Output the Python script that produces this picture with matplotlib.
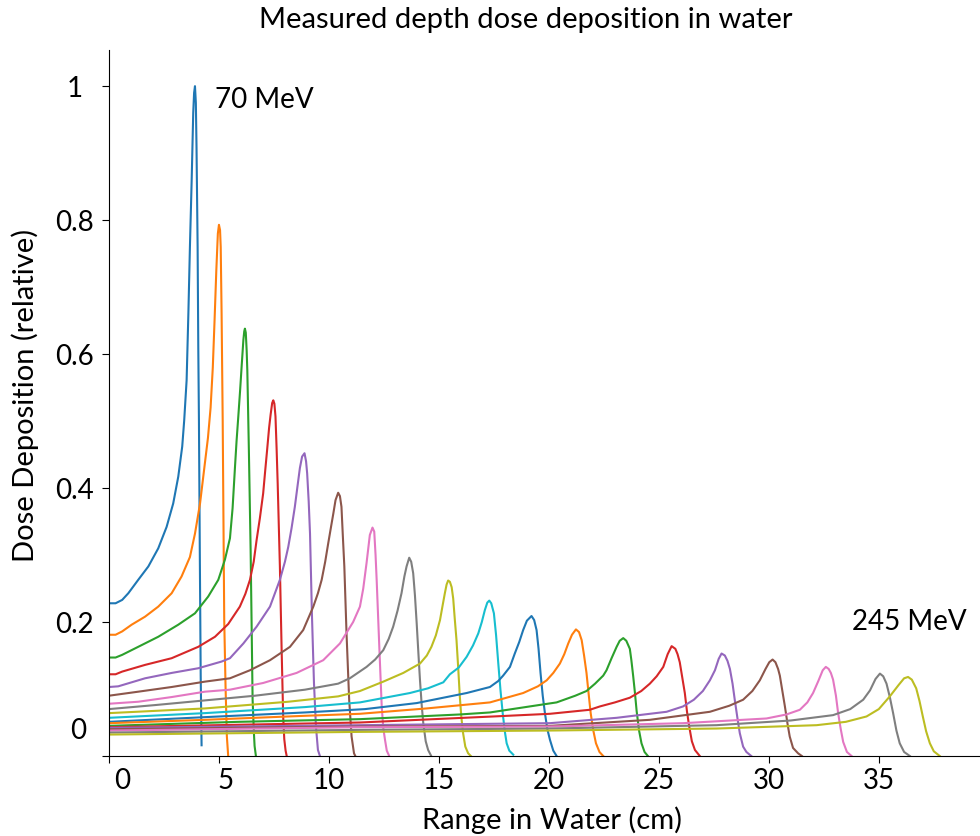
import matplotlib
matplotlib.use('Agg')
import matplotlib.pyplot as plt
import matplotlib.transforms as mtransforms

plt.rcParams['font.family'] = ['Lato', 'DejaVu Sans']

# measured depth dose curves, one row per beam energy (70 MeV ... 245 MeV)
depth_cm = [
    [0, 0.3, 0.6, 0.88, 1.33, 1.79, 2.24, 2.62, 2.92, 3.15, 3.33, 3.42, 3.53, 3.61, 3.68, 3.76, 3.83, 3.87, 3.91, 3.95, 3.98, 4.03, 4.06, 4.09, 4.13, 4.17, 4.21],
    [0, 0.3, 0.6, 1.03, 1.64, 2.24, 2.85, 3.30, 3.68, 3.91, 4.14, 4.36, 4.50, 4.62, 4.72, 4.80, 4.88, 4.95, 5.00, 5.05, 5.08, 5.12, 5.17, 5.21, 5.24, 5.30, 5.36, 5.42],
    [0, 0.3, 0.6, 1.33, 2.24, 3.15, 3.91, 4.51, 4.97, 5.27, 5.50, 5.62, 5.73, 5.80, 5.88, 5.96, 6.03, 6.11, 6.15, 6.18, 6.22, 6.26, 6.29, 6.36, 6.44, 6.49, 6.53, 6.59, 6.62, 6.68],
    [0, 0.3, 0.6, 1.64, 2.85, 4.06, 4.82, 5.42, 5.95, 6.20, 6.41, 6.58, 6.71, 6.86, 7.01, 7.10, 7.19, 7.28, 7.35, 7.42, 7.47, 7.52, 7.57, 7.62, 7.67, 7.77, 7.85, 7.92, 7.97, 8.03, 8.08],
    [0, 0.42, 1.64, 2.85, 4.06, 5.12, 5.50, 6.11, 6.71, 7.32, 7.77, 8.00, 8.15, 8.30, 8.45, 8.58, 8.68, 8.78, 8.89, 8.96, 9.01, 9.08, 9.14, 9.23, 9.32, 9.41, 9.50, 9.59],
    [0, 1.33, 2.85, 4.36, 5.50, 6.41, 7.32, 8.23, 8.83, 9.29, 9.50, 9.67, 9.83, 9.97, 10.10, 10.20, 10.30, 10.42, 10.50, 10.57, 10.63, 10.70, 10.80, 10.92, 11.03, 11.14, 11.20],
    [0, 1.33, 2.85, 4.36, 5.50, 7.01, 8.53, 9.74, 10.50, 11.10, 11.41, 11.56, 11.71, 11.86, 11.98, 12.06, 12.12, 12.17, 12.29, 12.40, 12.47, 12.55, 12.63, 12.74],
    [0, 2.09, 4.36, 6.64, 8.91, 10.42, 10.95, 11.71, 12.10, 12.47, 12.72, 12.92, 13.12, 13.30, 13.43, 13.53, 13.65, 13.74, 13.83, 13.91, 13.99, 14.07, 14.14, 14.22, 14.29, 14.40, 14.51, 14.65],
    [0, 4.36, 8.15, 10.42, 11.41, 12.47, 13.38, 14.14, 14.45, 14.66, 14.86, 15.05, 15.17, 15.27, 15.35, 15.42, 15.50, 15.58, 15.65, 15.72, 15.80, 15.88, 15.95, 16.02, 16.10, 16.20, 16.33, 16.45],
    [0, 4.36, 8.91, 11.41, 13.68, 14.50, 15.20, 15.50, 15.90, 16.26, 16.55, 16.79, 16.95, 17.09, 17.20, 17.29, 17.38, 17.50, 17.60, 17.70, 17.80, 17.90, 18.00, 18.08, 18.20, 18.38],
    [0, 4.36, 8.91, 11.64, 13.99, 16.26, 17.32, 17.70, 17.92, 18.23, 18.45, 18.65, 18.83, 19.00, 19.21, 19.33, 19.44, 19.53, 19.62, 19.72, 19.82, 19.93, 20.05, 20.20, 20.35],
    [0, 4.36, 8.91, 11.41, 14.44, 17.32, 18.83, 19.50, 19.90, 20.20, 20.50, 20.70, 20.88, 21.05, 21.23, 21.37, 21.49, 21.60, 21.71, 21.80, 21.90, 22.02, 22.14, 22.30, 22.47],
    [0, 5.88, 11.41, 15.95, 17.32, 19.74, 20.35, 21.20, 21.71, 22.10, 22.47, 22.62, 22.85, 23.08, 23.22, 23.38, 23.52, 23.68, 23.75, 23.83, 23.91, 23.99, 24.10, 24.21, 24.35, 24.50],
    [0, 11.41, 17.47, 20.05, 21.86, 22.32, 23.00, 23.68, 24.20, 24.59, 24.90, 25.20, 25.40, 25.58, 25.75, 25.85, 25.95, 26.05, 26.18, 26.28, 26.38, 26.50, 26.64, 26.86],
    [0, 11.41, 20.05, 23.08, 25.35, 26.10, 26.59, 27.00, 27.32, 27.55, 27.72, 27.85, 28.00, 28.12, 28.23, 28.35, 28.45, 28.57, 28.68, 28.83, 28.98, 29.20],
    [0, 11.41, 20.05, 24.59, 27.32, 28.20, 28.83, 29.25, 29.59, 29.85, 30.02, 30.17, 30.30, 30.42, 30.50, 30.60, 30.73, 30.85, 30.95, 31.10, 31.33, 31.50],
    [0, 11.41, 20.05, 26.11, 29.89, 30.80, 31.41, 31.75, 32.01, 32.25, 32.45, 32.59, 32.72, 32.82, 32.92, 33.05, 33.15, 33.27, 33.38, 33.55, 33.76],
    [0, 11.41, 20.05, 27.62, 31.00, 32.92, 33.70, 34.29, 34.60, 34.85, 35.05, 35.20, 35.35, 35.50, 35.65, 35.80, 35.95, 36.15, 36.41],
    [0, 11.41, 20.05, 27.62, 32.17, 33.50, 34.44, 35.00, 35.50, 35.90, 36.15, 36.33, 36.50, 36.70, 36.85, 37.00, 37.15, 37.32, 37.50, 37.77],
]
dose_rel = [
    [0.228, 0.228, 0.233, 0.243, 0.263, 0.283, 0.310, 0.342, 0.377, 0.417, 0.462, 0.501, 0.561, 0.661, 0.760, 0.860, 0.960, 0.990, 1.000, 0.975, 0.909, 0.760, 0.611, 0.501, 0.300, 0.120, 0.016],
    [0.181, 0.181, 0.186, 0.196, 0.208, 0.223, 0.243, 0.268, 0.297, 0.332, 0.377, 0.437, 0.475, 0.520, 0.580, 0.650, 0.725, 0.780, 0.793, 0.785, 0.760, 0.661, 0.501, 0.330, 0.203, 0.103, 0.029, 0.0],
    [0.147, 0.147, 0.151, 0.163, 0.178, 0.196, 0.213, 0.238, 0.263, 0.293, 0.325, 0.370, 0.432, 0.470, 0.507, 0.545, 0.581, 0.621, 0.634, 0.638, 0.632, 0.605, 0.575, 0.457, 0.307, 0.183, 0.084, 0.034, 0.015, 0.0],
    [0.122, 0.122, 0.126, 0.136, 0.146, 0.163, 0.178, 0.197, 0.223, 0.242, 0.263, 0.290, 0.322, 0.355, 0.392, 0.425, 0.457, 0.490, 0.510, 0.527, 0.531, 0.526, 0.507, 0.460, 0.407, 0.283, 0.158, 0.059, 0.025, 0.008, 0.0],
    [0.103, 0.104, 0.116, 0.124, 0.131, 0.141, 0.146, 0.168, 0.193, 0.223, 0.263, 0.290, 0.312, 0.340, 0.372, 0.405, 0.430, 0.447, 0.452, 0.440, 0.422, 0.380, 0.332, 0.208, 0.109, 0.044, 0.009, 0.0],
    [0.090, 0.096, 0.103, 0.111, 0.116, 0.128, 0.143, 0.163, 0.188, 0.223, 0.243, 0.263, 0.290, 0.318, 0.343, 0.362, 0.382, 0.393, 0.388, 0.372, 0.330, 0.283, 0.183, 0.084, 0.029, 0.004, 0.0],
    [0.078, 0.081, 0.088, 0.096, 0.099, 0.109, 0.124, 0.143, 0.168, 0.200, 0.223, 0.250, 0.288, 0.330, 0.341, 0.335, 0.300, 0.263, 0.163, 0.074, 0.042, 0.024, 0.008, 0.0],
    [0.070, 0.076, 0.083, 0.090, 0.099, 0.108, 0.116, 0.133, 0.144, 0.158, 0.175, 0.193, 0.217, 0.243, 0.268, 0.283, 0.296, 0.290, 0.273, 0.240, 0.198, 0.152, 0.113, 0.075, 0.049, 0.022, 0.009, 0.0],
    [0.064, 0.071, 0.081, 0.089, 0.097, 0.111, 0.124, 0.138, 0.150, 0.163, 0.180, 0.203, 0.225, 0.243, 0.256, 0.262, 0.260, 0.252, 0.235, 0.205, 0.173, 0.130, 0.089, 0.058, 0.034, 0.014, 0.004, 0.0],
    [0.057, 0.064, 0.073, 0.080, 0.094, 0.101, 0.110, 0.122, 0.132, 0.148, 0.165, 0.183, 0.200, 0.218, 0.229, 0.232, 0.228, 0.213, 0.180, 0.138, 0.098, 0.064, 0.036, 0.019, 0.008, 0.002],
    [0.051, 0.058, 0.065, 0.070, 0.079, 0.094, 0.103, 0.112, 0.120, 0.133, 0.153, 0.170, 0.188, 0.202, 0.209, 0.203, 0.188, 0.160, 0.124, 0.090, 0.064, 0.040, 0.024, 0.008, 0.0],
    [0.049, 0.054, 0.060, 0.063, 0.071, 0.080, 0.094, 0.104, 0.113, 0.124, 0.138, 0.152, 0.168, 0.181, 0.189, 0.185, 0.173, 0.150, 0.124, 0.095, 0.064, 0.038, 0.019, 0.006, 0.0],
    [0.045, 0.051, 0.055, 0.062, 0.065, 0.077, 0.080, 0.090, 0.097, 0.108, 0.120, 0.128, 0.146, 0.163, 0.172, 0.176, 0.172, 0.160, 0.143, 0.120, 0.095, 0.067, 0.038, 0.019, 0.006, 0.0],
    [0.043, 0.050, 0.059, 0.063, 0.069, 0.074, 0.080, 0.087, 0.097, 0.108, 0.119, 0.133, 0.152, 0.164, 0.160, 0.152, 0.140, 0.120, 0.094, 0.066, 0.044, 0.022, 0.009, 0.0],
    [0.042, 0.046, 0.049, 0.057, 0.066, 0.074, 0.084, 0.097, 0.113, 0.128, 0.145, 0.153, 0.150, 0.142, 0.130, 0.108, 0.084, 0.057, 0.034, 0.014, 0.006, 0.0],
    [0.040, 0.044, 0.045, 0.054, 0.066, 0.075, 0.084, 0.097, 0.113, 0.130, 0.140, 0.144, 0.140, 0.130, 0.120, 0.100, 0.074, 0.048, 0.029, 0.012, 0.004, 0.0],
    [0.038, 0.043, 0.044, 0.049, 0.056, 0.062, 0.069, 0.080, 0.094, 0.112, 0.128, 0.133, 0.130, 0.124, 0.114, 0.090, 0.064, 0.040, 0.021, 0.006, 0.0],
    [0.035, 0.039, 0.041, 0.046, 0.053, 0.061, 0.070, 0.084, 0.098, 0.115, 0.123, 0.119, 0.108, 0.088, 0.064, 0.038, 0.019, 0.006, 0.0],
    [0.032, 0.036, 0.038, 0.041, 0.046, 0.051, 0.059, 0.070, 0.089, 0.106, 0.116, 0.118, 0.114, 0.101, 0.082, 0.059, 0.037, 0.019, 0.007, 0.0],
]

x_ticks = [0, 5, 10, 15, 20, 25, 30, 35]
y_ticks = [0, 0.2, 0.4, 0.6, 0.8, 1.0]
y_labels = ['', '0.2', '0.4', '0.6', '0.8', '1']

fig = plt.figure(figsize=(9.8, 8.36), dpi=100)
ax = fig.add_axes([0.1112, 0.0957, 0.8888, 0.8445])

for d, v in zip(depth_cm, dose_rel):
    ax.plot(d, v, lw=1.5)

ax.set_xlim(0, 39.6)
ax.set_ylim(0, 1.054)
ax.spines['top'].set_visible(False)
ax.spines['right'].set_visible(False)

ax.set_xticks(x_ticks)
ax.set_yticks(y_ticks)
ax.set_yticklabels(y_labels, ha='center')
ax.tick_params(axis='both', labelsize=20, length=5)
ax.tick_params(axis='y', pad=20)
ax.tick_params(axis='x', pad=4)

# the first two x labels sit slightly right of their ticks in the original
for lab, dx in zip(ax.get_xticklabels()[:2], [0.13, 0.07]):
    lab.set_transform(lab.get_transform() + mtransforms.ScaledTranslation(dx, 0, fig.dpi_scale_trans))

# the 0 label sits a little above the axis in the original
ax.text(-0.035, 0.037, '0', transform=mtransforms.blended_transform_factory(ax.transAxes, ax.transData),
        ha='center', va='center', fontsize=20)

ax.set_xlabel('Range in Water (cm)', fontsize=21)
ax.xaxis.set_label_coords(0.509, -0.071)
ax.set_ylabel('Dose Deposition (relative)', fontsize=21)
ax.yaxis.set_label_coords(-0.080, 0.511)
fig.text(526 / 980, 1 - 20 / 836, 'Measured depth dose deposition in water', fontsize=21,
         ha='center', va='center')

ax.text(4.82, 0.979, '70 MeV', fontsize=20, va='center')
ax.text(33.8, 0.2, '245 MeV', fontsize=20, va='center')

fig.savefig('out.png', dpi=100)
